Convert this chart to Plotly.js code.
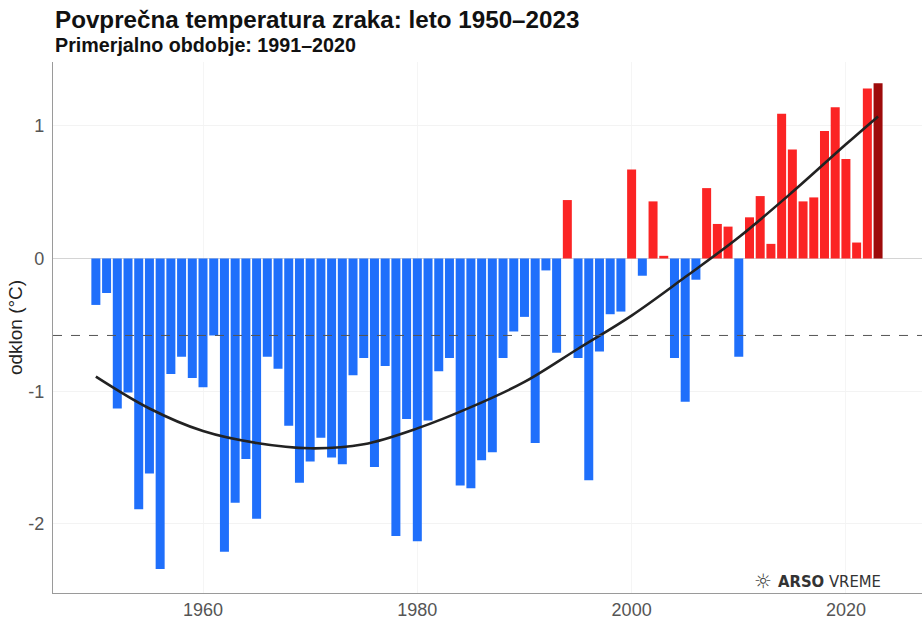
<!DOCTYPE html>
<html>
<head>
<meta charset="utf-8">
<script src="https://cdn.plot.ly/plotly-3.0.1.min.js"></script>
<style>html,body{margin:0;padding:0;background:#fff;}#chart{width:922px;height:620px;}</style>
</head>
<body>
<div id="chart"></div>
<script>
// Years 1950–2023
const years = [];
for (let y = 1950; y <= 2023; y++) years.push(y);

// Summer temperature anomaly (°C) vs 1991–2020
const anomalies = [
  -0.35, -0.26, -1.13, -1.01, -1.89, -1.62, -2.34, -0.87, -0.74, -0.90, // 1950-1959
  -0.97, -0.58, -2.21, -1.84, -1.51, -1.96, -0.74, -0.83, -1.26, -1.69, // 1960-1969
  -1.53, -1.35, -1.50, -1.55, -0.88, -0.75, -1.57, -0.81, -2.09, -1.21, // 1970-1979
  -2.13, -1.22, -0.85, -0.75, -1.71, -1.73, -1.52, -1.46, -0.75, -0.55, // 1980-1989
  -0.44, -1.39, -0.09, -0.71,  0.44, -0.75, -1.67, -0.70, -0.42, -0.40, // 1990-1999
   0.67, -0.13,  0.43,  0.02, -0.75, -1.08, -0.16,  0.53,  0.26,  0.24, // 2000-2009
  -0.74,  0.31,  0.47,  0.11,  1.09,  0.82,  0.43,  0.46,  0.96,  1.14, // 2010-2019
   0.75,  0.12,  1.28,  1.32                                              // 2020-2023
];

// Smooth trend curve
const trendYears = [1950, 1955, 1960, 1965, 1970, 1975, 1980, 1985, 1990, 1995, 2000, 2005, 2010, 2015, 2020, 2023];
const trendValues = [-0.89, -1.13, -1.30, -1.39, -1.43, -1.40, -1.28, -1.12, -0.93, -0.68, -0.43, -0.14, 0.16, 0.50, 0.86, 1.07];

// Reference level (dashed line)
const refLevel = -0.58;

const xTicks = [1960, 1980, 2000, 2020];
const yTicks = [-2, -1, 0, 1];

const BLUE = '#1f6ffb', RED = '#fb2424', DARK = '#9e0b0b';
const lastYear = years[years.length - 1];
const colors = anomalies.map((v, i) => years[i] === lastYear ? DARK : (v < 0 ? BLUE : RED));

const traces = [
  {
    type: 'bar', x: years, y: anomalies,
    marker: {color: colors, line: {width: 0}},
    hoverinfo: 'x+y'
  },
  {
    type: 'scatter', mode: 'lines', x: trendYears, y: trendValues,
    line: {color: '#222222', width: 2.6, shape: 'spline', smoothing: 1.0},
    hoverinfo: 'skip'
  }
];

const font = 'Liberation Sans, Arial, sans-serif';

const layout = {
  width: 922, height: 620,
  margin: {l: 53, r: 0, t: 62, b: 27},
  paper_bgcolor: '#ffffff', plot_bgcolor: '#ffffff',
  showlegend: false,
  bargap: 0.16,
  font: {family: font},
  xaxis: {
    range: [1946.0, 2027.1],
    tickvals: xTicks, ticktext: xTicks.map(String),
    showgrid: true, gridcolor: '#f5f5f5', gridwidth: 1,
    showline: true, linecolor: '#9a9a9a', linewidth: 1.2,
    ticks: '', zeroline: false,
    tickfont: {size: 18, color: '#555555', family: font},
    fixedrange: true
  },
  yaxis: {
    range: [-2.52, 1.48],
    tickvals: yTicks, ticktext: yTicks.map(String),
    showgrid: true, gridcolor: '#f3f3f3', gridwidth: 1,
    showline: true, linecolor: '#9a9a9a', linewidth: 1.2,
    zeroline: true, zerolinecolor: '#d4d4d4', zerolinewidth: 1,
    ticks: '', ticklabelstandoff: 4,
    tickfont: {size: 18, color: '#555555', family: font},
    title: {text: 'odklon (°C)', font: {size: 19, color: '#222222', family: font}, standoff: 0},
    automargin: false,
    fixedrange: true
  },
  shapes: [
    {type: 'line', xref: 'paper', yref: 'y', x0: 0, x1: 1, y0: refLevel, y1: refLevel,
     line: {color: '#555555', width: 1, dash: 'dash'}, layer: 'above'}
  ],
  annotations: [
    {xref: 'paper', yref: 'paper', x: 0.0, y: (593 - 19) / 531, xanchor: 'left', yanchor: 'middle',
     text: '<b>Povprečna temperatura zraka: leto 1950–2023</b>', showarrow: false,
     font: {size: 24.2, color: '#111111', family: font}},
    {xref: 'paper', yref: 'paper', x: 0.0, y: (593 - 45) / 531, xanchor: 'left', yanchor: 'middle',
     text: '<b>Primerjalno obdobje: 1991–2020</b>', showarrow: false,
     font: {size: 19.7, color: '#111111', family: font}},
    {xref: 'paper', yref: 'paper', x: (763 - 53) / 869, y: (593 - 581) / 531, xanchor: 'center', yanchor: 'middle',
     text: '☼', showarrow: false, font: {size: 20, color: '#444444', family: 'DejaVu Sans'}},
    {xref: 'paper', yref: 'paper', x: (776 - 53) / 869, y: (593 - 581) / 531, xanchor: 'left', yanchor: 'middle',
     text: '<b>ARSO</b> VREME', showarrow: false,
     font: {size: 16.5, color: '#333333', family: 'DejaVu Sans Condensed, DejaVu Sans'}}
  ]
};

Plotly.newPlot('chart', traces, layout, {displayModeBar: false, staticPlot: true});
</script>
</body>
</html>
